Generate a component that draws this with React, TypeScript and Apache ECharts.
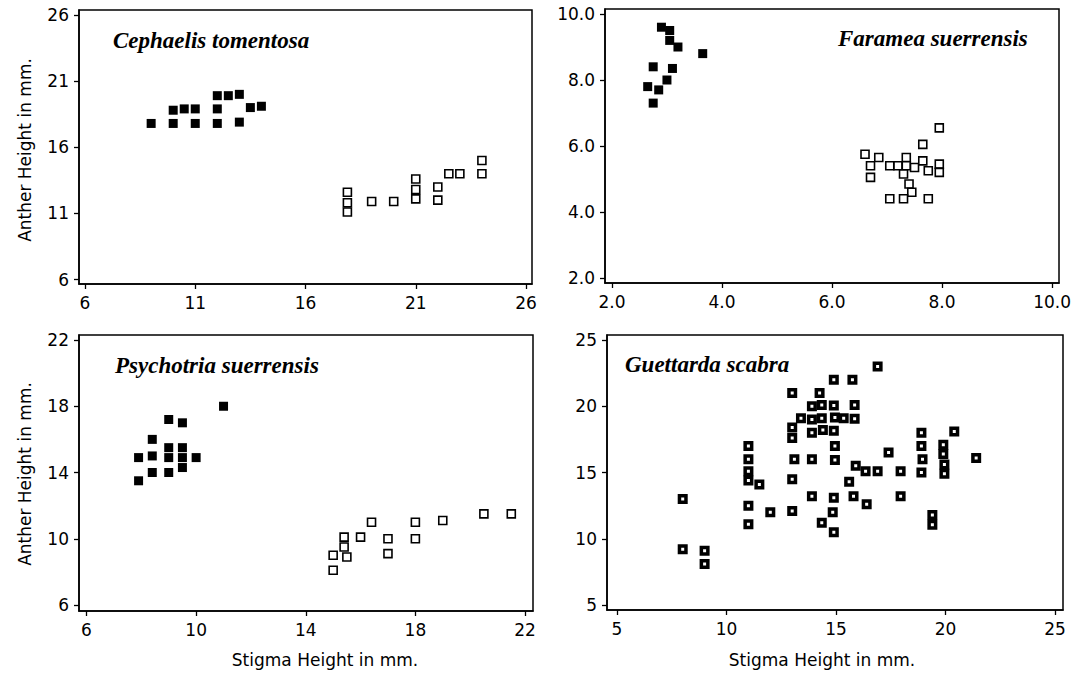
import React, { useEffect, useRef } from "react";
import * as echarts from "echarts";

// ---------- data ----------
const cephaelisFilled: number[][] = [
  [9, 17.8], [10, 18.8], [10, 17.8], [10.5, 18.9], [11, 18.9], [11, 17.8], [12, 19.9],
  [12, 18.9], [12, 17.8], [12.5, 19.9], [13, 20.0], [13, 17.9], [13.5, 19.0], [14, 19.1],
];
const cephaelisOpen: number[][] = [
  [17.9, 12.6], [17.9, 11.8], [17.9, 11.1], [19, 11.9], [20, 11.9], [21, 13.6], [21, 12.8],
  [21, 12.1], [22, 13.0], [22, 12.0], [22.5, 14.0], [23, 14.0], [24, 15.0], [24, 14.0],
];
const framFilled: number[][] = [
  [2.9, 9.6], [3.05, 9.5], [3.05, 9.2], [3.2, 9.0], [3.65, 8.8], [2.75, 8.4], [3.1, 8.35],
  [3.0, 8.0], [2.65, 7.8], [2.85, 7.7], [2.75, 7.3],
];
const framOpen: number[][] = [
  [7.95, 6.55], [7.65, 6.05], [6.6, 5.75], [6.85, 5.65], [6.7, 5.4], [6.7, 5.05], [7.05, 5.4],
  [7.2, 5.4], [7.35, 5.65], [7.35, 5.4], [7.3, 5.15], [7.5, 5.35], [7.4, 4.85], [7.45, 4.6],
  [7.65, 5.55], [7.75, 5.25], [7.95, 5.45], [7.95, 5.2], [7.05, 4.4], [7.3, 4.4], [7.75, 4.4],
];
const psyFilled: number[][] = [
  [11, 18.0], [9, 17.2], [9.5, 17.0], [8.4, 16.0], [9, 15.5], [9.5, 15.5], [7.9, 14.9],
  [8.4, 15.0], [9, 14.9], [9.5, 14.9], [10, 14.9], [8.4, 14.0], [9, 14.0], [9.5, 14.3], [7.9, 13.5],
];
const psyOpen: number[][] = [
  [20.5, 11.5], [21.5, 11.5], [19, 11.1], [18, 11.0], [16.4, 11.0], [18, 10.0], [17, 10.0],
  [16, 10.1], [15.4, 10.1], [15.4, 9.5], [15.5, 8.9], [15, 9.0], [15, 8.1], [17, 9.1],
];
const guettarda: number[][] = [
  [8, 13], [8, 9.2], [9, 9.1], [9, 8.1], [11, 17], [11, 16], [11, 15.1], [11, 14.4], [11, 12.5],
  [11, 11.1], [11.5, 14.1], [12, 12], [13, 21], [13, 18.4], [13, 17.6], [13.1, 16], [13, 14.5],
  [13, 12.1], [13.4, 19.1], [13.9, 20], [13.9, 19], [13.9, 18], [13.9, 16], [13.9, 13.2],
  [14.25, 21], [14.35, 20.1], [14.35, 19.1], [14.4, 18.2], [14.35, 11.2], [14.9, 22], [14.9, 20.05],
  [14.95, 19.15], [14.9, 18.15], [14.95, 17], [14.95, 15.95], [14.9, 13.1], [14.85, 12], [14.9, 10.5],
  [15.35, 19.1], [15.6, 14.3], [15.75, 22], [15.85, 20.1], [15.85, 19.05], [15.9, 15.5], [15.8, 13.2],
  [16.35, 15.1], [16.4, 12.6], [16.9, 23], [16.9, 15.1], [17.4, 16.5], [17.95, 15.1], [17.95, 13.2],
  [18.9, 18], [18.9, 17], [18.95, 16], [18.9, 15], [19.4, 11.8], [19.4, 11.05], [19.9, 17.1],
  [19.9, 16.4], [19.95, 15.6], [19.95, 14.9], [20.4, 18.1], [21.4, 16.1],
];

const ticks1x = [6, 11, 16, 21, 26];
const ticks1y = [6, 11, 16, 21, 26];
const ticks2x = [2, 4, 6, 8, 10];
const ticks2y = [2, 4, 6, 8, 10];
const ticks3x = [6, 10, 14, 18, 22];
const ticks3y = [6, 10, 14, 18, 22];
const ticks4x = [5, 10, 15, 20, 25];
const ticks4y = [5, 10, 15, 20, 25];

const species = ["Cephaelis tomentosa", "Faramea suerrensis", "Psychotria suerrensis", "Guettarda scabra"];
const xTitle = "Stigma Height in mm.";
const yTitle = "Anther Height in mm.";

// ---------- styling ----------
const SANS = "DejaVu Sans";
const SERIF = "Liberation Serif";

function axis(gridIndex: number, min: number, max: number, ticks: number[], decimals: boolean) {
  return {
    type: "value",
    gridIndex,
    min,
    max,
    axisLine: { show: true, onZero: false, lineStyle: { color: "#000", width: 1.5 } },
    axisTick: { show: true, length: 5, customValues: ticks, lineStyle: { color: "#000", width: 1.3 } },
    axisLabel: {
      customValues: ticks,
      color: "#000",
      fontFamily: SANS,
      fontSize: 17,
      margin: 10,
      formatter: (v: number) => (decimals ? v.toFixed(1) : String(v)),
    },
    splitLine: { show: false },
  };
}

const filledStyle = { symbol: "rect", symbolSize: 9, itemStyle: { color: "#000", opacity: 1 } };
const openStyle = {
  symbol: "rect",
  symbolSize: 8,
  itemStyle: { color: "#fff", borderColor: "#000", borderWidth: 1.6, opacity: 1 },
};
const dotStyle = {
  symbol: "path://M0,0H10V10H0Z M3.5,3.5V6.5H6.5V3.5Z",
  symbolSize: 10,
  itemStyle: { color: "#000", opacity: 1 },
};

export default function App() {
  const ref = useRef<HTMLDivElement>(null);
  useEffect(() => {
    document.body.style.margin = "0";
    if (!ref.current) return;
    const chart = echarts.init(ref.current, undefined, { renderer: "svg" });
    const grid = (left: number, top: number, width: number, height: number) => ({
      left, top, width, height, show: true, borderColor: "#000", borderWidth: 1.5, backgroundColor: "transparent",
    });
    const nameText = (text: string, x: number, y: number) => ({
      type: "text",
      x,
      y,
      style: {
        text,
        fontFamily: SERIF,
        fontStyle: "italic",
        fontWeight: "bold",
        fontSize: 23,
        fill: "#000",
        align: "left",
        verticalAlign: "middle",
      },
    });
    const titleText = (text: string, x: number, y: number, rotation: number) => ({
      type: "text",
      x,
      y,
      rotation,
      style: { text, fontFamily: SANS, fontSize: 17, fill: "#000", align: "center", verticalAlign: "middle" },
    });
    chart.setOption({
      animation: false,
      backgroundColor: "#fff",
      grid: [
        grid(79, 10, 453, 274),
        grid(605, 9, 458, 274),
        grid(79, 335, 454, 276),
        grid(607, 335, 456, 275),
      ],
      xAxis: [
        axis(0, 5.728, 26.272, ticks1x, false),
        axis(1, 1.874, 10.126, ticks2x, true),
        axis(2, 5.726, 22.292, ticks3x, false),
        axis(3, 4.543, 25.365, ticks4x, false),
      ],
      yAxis: [
        axis(0, 5.66, 26.378, ticks1y, false),
        axis(1, 1.848, 10.152, ticks2y, true),
        axis(2, 5.638, 22.302, ticks3y, false),
        axis(3, 4.623, 25.377, ticks4y, false),
      ],
      series: [
        { type: "scatter", xAxisIndex: 0, yAxisIndex: 0, data: cephaelisFilled, ...filledStyle },
        { type: "scatter", xAxisIndex: 0, yAxisIndex: 0, data: cephaelisOpen, ...openStyle },
        { type: "scatter", xAxisIndex: 1, yAxisIndex: 1, data: framFilled, ...filledStyle },
        { type: "scatter", xAxisIndex: 1, yAxisIndex: 1, data: framOpen, ...openStyle },
        { type: "scatter", xAxisIndex: 2, yAxisIndex: 2, data: psyFilled, ...filledStyle },
        { type: "scatter", xAxisIndex: 2, yAxisIndex: 2, data: psyOpen, ...openStyle },
        { type: "scatter", xAxisIndex: 3, yAxisIndex: 3, data: guettarda, ...dotStyle },
      ],
      graphic: [
        nameText(species[0], 113, 40),
        nameText(species[1], 838, 38),
        nameText(species[2], 115, 365),
        nameText(species[3], 625, 364),
        titleText(yTitle, 25, 150, Math.PI / 2),
        titleText(yTitle, 25, 474, Math.PI / 2),
        titleText(xTitle, 325, 660, 0),
        titleText(xTitle, 822, 660, 0),
      ],
    });
    return () => chart.dispose();
  }, []);
  return <div ref={ref} style={{ width: 1074, height: 675 }} />;
}
